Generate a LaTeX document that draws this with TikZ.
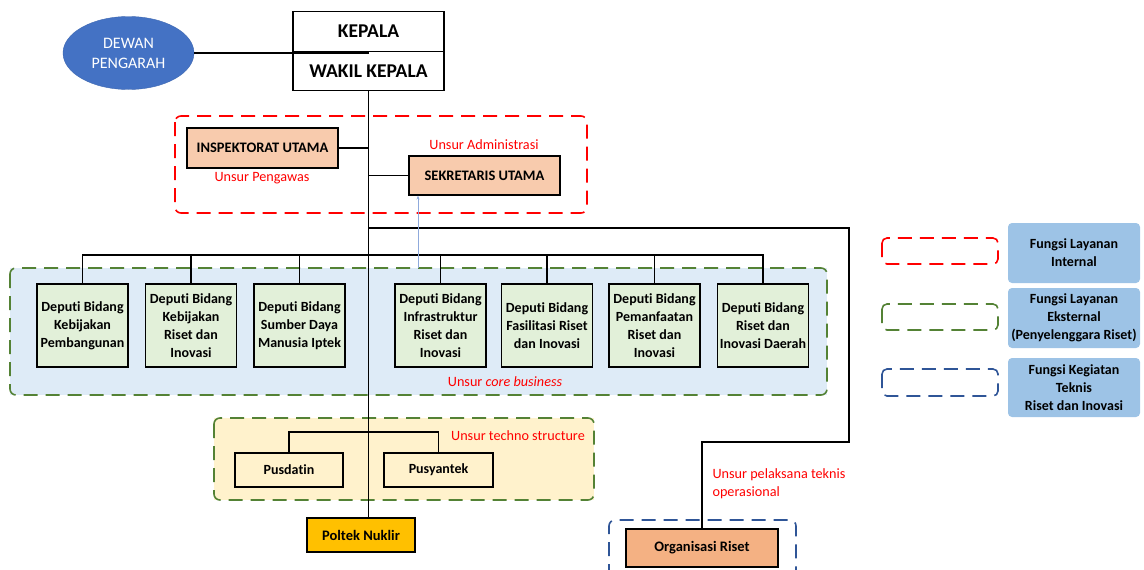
\documentclass[tikz,border=0pt]{standalone}
\usepackage{fontspec}
\setmainfont{Carlito}[Ligatures=NoCommon]
\usepackage{xcolor}
\usetikzlibrary{shapes.geometric,arrows.meta}
\definecolor{dblue}{HTML}{4472C4}
\definecolor{peach}{HTML}{F8CBAD}
\definecolor{dgreen}{HTML}{E2F0D9}
\definecolor{corebg}{HTML}{DEEBF7}
\definecolor{techbg}{HTML}{FFF2CC}
\definecolor{gold}{HTML}{FFC000}
\definecolor{orgfill}{HTML}{F4B183}
\definecolor{legfill}{HTML}{9DC3E6}
\definecolor{framegreen}{HTML}{548235}
\definecolor{frameblue}{HTML}{2F5597}
\definecolor{arrowblue}{HTML}{8FAADC}

\begin{document}
\begin{tikzpicture}[x=1pt, y=-1pt,
  box/.style={draw, line width=1.2pt, align=center, inner sep=1pt},
  deputi/.style={box, fill=dgreen, minimum width=91pt, minimum height=83pt,
    font=\bfseries\fontsize{14}{18}\selectfont},
  lbl/.style={text=red, font=\fontsize{14.2}{18}\selectfont},
  frame/.style={line width=1.6pt, rounded corners=6pt, dash pattern=on 14pt off 8pt},
  legbox/.style={fill=legfill, rounded corners=4pt, minimum width=132pt, align=center,
    font=\bfseries\fontsize{14}{18}\selectfont},
  link/.style={line width=1.1pt}]
\useasboundingbox (0,0) rectangle (1144,570);

% regions
\fill[corebg] (10,268) rectangle (827,395);
\draw[frame, framegreen] (10,268) rectangle (827,395);
\fill[techbg] (214,418) rectangle (594,500);
\draw[frame, framegreen] (214,418) rectangle (594,500);
\draw[frame, red] (175,116) rectangle (587,213);
\draw[line width=1.6pt, frameblue, dash pattern=on 14pt off 8pt, rounded corners=6pt]
  (609,578) -- (609,520) -- (796,520) -- (796,578);

% pimpinan
\node (kp) at (368.5,31.5) [box, minimum width=151pt, minimum height=39.5pt,
  font=\bfseries\fontsize{19.5}{22}\selectfont]{KEPALA};
\node (wk) at (368.5,71) [box, minimum width=151pt, minimum height=39.5pt,
  font=\bfseries\fontsize{19.5}{22}\selectfont]{WAKIL KEPALA};
\node (dp) at (128.5,53) [ellipse, fill=dblue, draw=dblue!90!black, minimum width=131pt,
  minimum height=73pt, text=white, align=center, inner sep=0pt,
  font=\fontsize{16}{20}\selectfont]{DEWAN\\PENGARAH};

% unsur pengawas dan administrasi
\node (iu) at (262.5,148) [box, fill=peach, minimum width=151pt, minimum height=40pt,
  font=\bfseries\fontsize{14.5}{16}\selectfont]{INSPEKTORAT UTAMA};
\node (su) at (484.5,175.5) [box, fill=peach, minimum width=151pt, minimum height=39pt,
  font=\bfseries\fontsize{14.5}{16}\selectfont]{SEKRETARIS UTAMA};
\node (l1) at (262,178) [lbl]{Unsur Pengawas};
\node (l2) at (484,145) [lbl]{Unsur Administrasi};

% deputi
\node (d1) at (82.5,325.5) [deputi]{Deputi Bidang\\Kebijakan\\Pembangunan};
\node (d2) at (191,325.5) [deputi]{Deputi Bidang\\Kebijakan\\Riset dan\\Inovasi};
\node (d3) at (299.5,325.5) [deputi]{Deputi Bidang\\Sumber Daya\\Manusia Iptek};
\node (d4) at (440.5,325.5) [deputi]{Deputi Bidang\\Infrastruktur\\Riset dan\\Inovasi};
\node (d5) at (547,325.5) [deputi]{Deputi Bidang\\Fasilitasi Riset\\dan Inovasi};
\node (d6) at (654.5,325.5) [deputi]{Deputi Bidang\\Pemanfaatan\\Riset dan\\Inovasi};
\node (d7) at (763,325.5) [deputi]{Deputi Bidang\\Riset dan\\Inovasi Daerah};
\node (l3) at (505,382) [lbl]{Unsur \textit{core business}};

% techno structure
\node (pd) at (289,470) [box, fill=techbg, minimum width=108pt, minimum height=34pt,
  font=\bfseries\fontsize{14}{16}\selectfont]{Pusdatin};
\node (py) at (438.5,470) [box, fill=techbg, minimum width=109pt, minimum height=34pt,
  font=\bfseries\fontsize{14}{16}\selectfont]{Pusyantek};
\node (l4) at (518,436) [lbl]{Unsur techno structure};
\node (pn) at (361,535) [box, fill=gold, minimum width=108pt, minimum height=34pt,
  font=\bfseries\fontsize{14.5}{16}\selectfont]{Poltek Nuklir};

% pelaksana teknis
\node (or) at (702,548) [box, fill=orgfill, minimum width=152pt, minimum height=38pt,
  font=\bfseries\fontsize{14.5}{16}\selectfont]{Organisasi Riset};
\node (l5) at (709,484) [lbl, anchor=west, align=left]{Unsur pelaksana teknis\\operasional};

% legenda
\draw[frame, red, rounded corners=5pt] (882,238) rectangle (998,264);
\draw[frame, framegreen, rounded corners=5pt] (882,304) rectangle (998,330);
\draw[frame, frameblue, rounded corners=5pt] (882,369) rectangle (998,396);
\node (g1) at (1074,253) [legbox, minimum height=60pt]{Fungsi Layanan\\Internal};
\node (g2) at (1074,318) [legbox, minimum height=60pt]{Fungsi Layanan\\Eksternal\\(Penyelenggara Riset)};
\node (g3) at (1074,387.5) [legbox, minimum height=59pt]{Fungsi Kegiatan\\Teknis\\Riset dan Inovasi};

% garis
\coordinate (bus) at (0,255);
\coordinate (tb) at (0,432);
\coordinate (ob) at (849,228);
\coordinate (oc) at (849,442);
\draw[link] (dp.east) -- (dp.east -| kp.south);
\draw[link] (wk.south) -- (wk.south |- pn.north);
\draw[link] (iu.east) -- (iu.east -| wk.south);
\draw[link] (su.west) -- (su.west -| wk.south);
\draw[link] (d1.north) |- (d7.north |- bus) -- (d7.north);
\foreach \d in {d2,d3,d4,d5,d6}
  \draw[link] (\d.north) -- (\d.north |- bus);
\draw[link] (pd.north) |- (py.north |- tb) -- (py.north);
\draw[link] (wk.south |- ob) -- (ob) -- (oc) -| (or.north);
\draw[arrowblue, line width=0.6pt, -{Stealth[length=4pt,width=3pt]}] (418,268) -- (su.south -| 418,0);
\end{tikzpicture}
\end{document}
